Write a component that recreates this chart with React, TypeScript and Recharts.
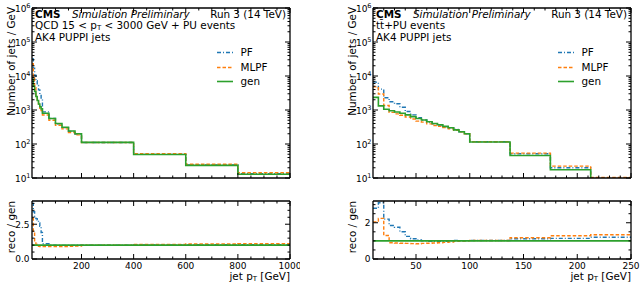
import React from 'react';
import { ComposedChart, Line, XAxis, YAxis, ReferenceLine } from 'recharts';

const FONT = '"DejaVu Sans", Verdana, sans-serif';
const BLUE = '#1f77b4';
const ORANGE = '#ff7f0e';
const GREEN = '#2ca02c';

// ---------- QCD panel (left) ----------
const qcdEdges = [10, 15, 20, 25, 30, 35, 40, 45, 50, 75, 100, 125, 150, 175, 200, 400, 600, 800, 1000];
const qcdGen = [8000, 5000, 3500, 2500, 1900, 1500, 1250, 1080, 800, 560, 400, 310, 240, 200, 112, 49, 23.5, 12.9];
const qcdPF = [32000, 17000, 10500, 7250, 5300, 3900, 2940, 2050, 880, 560, 392, 304, 235, 197, 111, 49.5, 24, 13.3];
const qcdMLPF = [23000, 10000, 4550, 2625, 1800, 1370, 1130, 970, 710, 500, 356, 278, 218, 186, 111, 51.5, 25.3, 14.2];
const qcdPFRatio = [4.0, 3.4, 3.0, 2.9, 2.8, 2.6, 2.35, 1.9, 1.1, 1.0, 0.98, 0.98, 0.98, 0.99, 0.99, 1.01, 1.02, 1.03];
const qcdMLPFRatio = [2.9, 2.0, 1.3, 1.05, 0.95, 0.92, 0.9, 0.9, 0.89, 0.89, 0.89, 0.9, 0.91, 0.93, 0.99, 1.05, 1.08, 1.1];

// ---------- ttbar panel (right) ----------
const ttEdges = [10, 15, 20, 25, 30, 35, 40, 45, 50, 55, 60, 65, 70, 75, 80, 85, 90, 95, 100, 137.5, 175, 212.5, 250];
const ttGen = [2350, 1320, 1050, 950, 870, 800, 720, 640, 560, 510, 450, 400, 370, 330, 300, 260, 230, 200, 115, 46, 17.5, 7.7];
const ttPF = [6600, 4100, 2300, 1750, 1520, 1200, 900, 720, 590, 510, 440, 390, 360, 325, 300, 268, 230, 200, 117, 51.5, 20, 9.2];
const ttMLPF = [4800, 2950, 1350, 850, 770, 700, 620, 545, 470, 440, 390, 350, 330, 305, 282, 252, 228, 200, 117, 54, 22.4, 10.3];
const ttPFRatio = [2.8, 3.1, 2.2, 1.85, 1.75, 1.5, 1.25, 1.12, 1.05, 1.0, 0.98, 0.97, 0.97, 0.98, 1.0, 1.03, 1.0, 1.0, 1.02, 1.12, 1.14, 1.2];
const ttMLPFRatio = [2.05, 2.24, 1.3, 0.9, 0.88, 0.87, 0.86, 0.85, 0.84, 0.86, 0.87, 0.88, 0.9, 0.92, 0.94, 0.97, 0.99, 1.0, 1.02, 1.17, 1.28, 1.34];

// ---------- axis ticks ----------
const logMajor = [10, 100, 1000, 10000, 100000, 1000000];
const logTicks = [
  10, 20, 30, 40, 50, 60, 70, 80, 90,
  100, 200, 300, 400, 500, 600, 700, 800, 900,
  1000, 2000, 3000, 4000, 5000, 6000, 7000, 8000, 9000,
  10000, 20000, 30000, 40000, 50000, 60000, 70000, 80000, 90000,
  100000, 200000, 300000, 400000, 500000, 600000, 700000, 800000, 900000,
  1000000,
];
const qcdXMajor = [200, 400, 600, 800, 1000];
const qcdXTicks = [50, 100, 150, 200, 250, 300, 350, 400, 450, 500, 550, 600, 650, 700, 750, 800, 850, 900, 950, 1000];
const ttXMajor = [50, 100, 150, 200, 250];
const ttXTicks = [20, 30, 40, 50, 60, 70, 80, 90, 100, 110, 120, 130, 140, 150, 160, 170, 180, 190, 200, 210, 220, 230, 240, 250];
const qcdRMajor = [0, 2.5];
const qcdRTicks = [0, 0.5, 1, 1.5, 2, 2.5, 3, 3.5, 4];
const ttRMajor = [0, 2];
const ttRTicks = [0, 0.5, 1, 1.5, 2, 2.5, 3];

const TXT = 10.4;
const TICKFS = 9;

const near = (arr: number[], v: number) => arr.some((a) => Math.abs(a - v) <= 1e-9 * Math.max(1, Math.abs(a)));

type Side = 'left' | 'right' | 'top' | 'bottom';
type LabelKind = 'none' | 'log' | 'num1' | 'num0' | 'bottom';

function makeTick(side: Side, majors: number[], kind: LabelKind) {
  return (p: any) => {
    const { x, y, payload } = p;
    const v = payload.value as number;
    const major = near(majors, v);
    const L = major ? 5 : 2.5;
    let line: any;
    if (side === 'left') line = <line x1={x} x2={x + L} y1={y} y2={y} stroke="#000" strokeWidth={1} />;
    else if (side === 'right') line = <line x1={x} x2={x - L} y1={y} y2={y} stroke="#000" strokeWidth={1} />;
    else if (side === 'bottom') line = <line x1={x} x2={x} y1={y} y2={y - L} stroke="#000" strokeWidth={1} />;
    else line = <line x1={x} x2={x} y1={y} y2={y + L} stroke="#000" strokeWidth={1} />;
    let text: any = null;
    if (major && kind === 'log') {
      const e = Math.round(Math.log10(v));
      text = (
        <text x={x - 1.5} y={y + 4} textAnchor="end" fontSize={TICKFS} fontFamily={FONT} fill="#000" stroke="none">
          10<tspan dy={-4.5} fontSize={6.5}>{e}</tspan>
        </text>
      );
    } else if (major && (kind === 'num1' || kind === 'num0')) {
      text = (
        <text x={x - 2.5} y={y + 3.3} textAnchor="end" fontSize={TICKFS} fontFamily={FONT} fill="#000" stroke="none">
          {kind === 'num1' ? v.toFixed(1) : String(v)}
        </text>
      );
    } else if (major && kind === 'bottom') {
      text = (
        <text x={x} y={y + 9.8} textAnchor="middle" fontSize={TICKFS} fontFamily={FONT} fill="#000" stroke="none">
          {String(v)}
        </text>
      );
    }
    return (
      <g>
        {line}
        {text}
      </g>
    );
  };
}

const AXIS_LINE = { stroke: '#000', strokeWidth: 1.3 };
const M0 = { top: 0, right: 0, bottom: 0, left: 0 };

type PanelProps = {
  left: number;
  edges: number[];
  gen: number[];
  pf: number[];
  mlpf: number[];
  pfR: number[];
  mlpfR: number[];
  xDomain: [number, number];
  xTicks: number[];
  xMajor: number[];
  rDomain: [number, number];
  rTicks: number[];
  rMajor: number[];
  rKind: LabelKind;
  title: React.ReactNode;
};

function Panel(props: PanelProps) {
  const { left, edges, gen, pf, mlpf, pfR, mlpfR, xDomain, xTicks, xMajor, rDomain, rTicks, rMajor, rKind, title } = props;
  const n = gen.length;
  const mainData = edges.map((e, i) => {
    const j = Math.min(i, n - 1);
    return { x: e, gen: gen[j], pf: pf[j], mlpf: mlpf[j] };
  });
  const ratioData = edges.map((e, i) => {
    const j = Math.min(i, n - 1);
    return { x: e, pf: pfR[j], mlpf: mlpfR[j] };
  });
  const commonLine = { dot: false, activeDot: false, isAnimationActive: false, type: 'stepAfter' as const, xAxisId: 'b', yAxisId: 'l' };

  return (
    <div style={{ position: 'absolute', left, top: 0, width: 300, height: 284 }}>
      <div style={{ position: 'absolute', left: 0, top: 0 }}>
        <ComposedChart width={300} height={190} data={mainData} margin={M0}>
          <XAxis xAxisId="b" dataKey="x" type="number" domain={xDomain} allowDataOverflow ticks={xTicks} interval={0}
            tickSize={0} tickMargin={0} height={12} axisLine={AXIS_LINE} tickLine={false} tick={makeTick('bottom', xMajor, 'none')} />
          <XAxis xAxisId="t" orientation="top" dataKey="x" type="number" domain={xDomain} allowDataOverflow ticks={xTicks} interval={0}
            tickSize={0} tickMargin={0} height={8} axisLine={AXIS_LINE} tickLine={false} tick={makeTick('top', xMajor, 'none')} />
          <YAxis yAxisId="l" type="number" scale="log" domain={[10, 1000000]} allowDataOverflow ticks={logTicks} interval={0}
            tickSize={0} tickMargin={0} width={32} axisLine={AXIS_LINE} tickLine={false} tick={makeTick('left', logMajor, 'log')} />
          <YAxis yAxisId="r" orientation="right" type="number" scale="log" domain={[10, 1000000]} allowDataOverflow ticks={logTicks} interval={0}
            tickSize={0} tickMargin={0} width={10} axisLine={AXIS_LINE} tickLine={false} tick={makeTick('right', logMajor, 'none')} />
          <Line {...commonLine} dataKey="pf" stroke={BLUE} strokeWidth={1.4} strokeDasharray="4 2 1 2" />
          <Line {...commonLine} dataKey="mlpf" stroke={ORANGE} strokeWidth={1.4} strokeDasharray="3.5 2" />
          <Line {...commonLine} dataKey="gen" stroke={GREEN} strokeWidth={1.6} />
        </ComposedChart>
      </div>
      <div style={{ position: 'absolute', left: 0, top: 190 }}>
        <ComposedChart width={300} height={94} data={ratioData} margin={M0}>
          <XAxis xAxisId="b" dataKey="x" type="number" domain={xDomain} allowDataOverflow ticks={xTicks} interval={0}
            tickSize={0} tickMargin={0} height={25} axisLine={AXIS_LINE} tickLine={false} tick={makeTick('bottom', xMajor, 'bottom')} />
          <XAxis xAxisId="t" orientation="top" dataKey="x" type="number" domain={xDomain} allowDataOverflow ticks={xTicks} interval={0}
            tickSize={0} tickMargin={0} height={11} axisLine={AXIS_LINE} tickLine={false} tick={makeTick('top', xMajor, 'none')} />
          <YAxis yAxisId="l" type="number" domain={rDomain} allowDataOverflow ticks={rTicks} interval={0}
            tickSize={0} tickMargin={0} width={32} axisLine={AXIS_LINE} tickLine={false} tick={makeTick('left', rMajor, rKind)} />
          <YAxis yAxisId="r" orientation="right" type="number" domain={rDomain} allowDataOverflow ticks={rTicks} interval={0}
            tickSize={0} tickMargin={0} width={10} axisLine={AXIS_LINE} tickLine={false} tick={makeTick('right', rMajor, 'none')} />
          <Line {...commonLine} dataKey="pf" stroke={BLUE} strokeWidth={1.4} strokeDasharray="4 2 1 2" />
          <Line {...commonLine} dataKey="mlpf" stroke={ORANGE} strokeWidth={1.4} strokeDasharray="3.5 2" />
          <ReferenceLine xAxisId="b" yAxisId="l" y={1} stroke={GREEN} strokeWidth={1.6} />
        </ComposedChart>
      </div>
      <svg width={300} height={284} style={{ position: 'absolute', left: 0, top: 0, pointerEvents: 'none' }} fontFamily={FONT}>
        <text x={35} y={17.5} fontSize={TXT} fontWeight="bold" fill="#000">CMS</text>
        <text x={72} y={17.5} fontSize={TXT} fontStyle="italic" fill="#000">Simulation Preliminary</text>
        <text x={286} y={17.5} fontSize={TXT} textAnchor="end" fill="#000">Run 3 (14 TeV)</text>
        <text x={35} y={28.6} fontSize={TXT} fill="#000">{title}</text>
        <text x={35} y={41} fontSize={TXT} fill="#000">AK4 PUPPI jets</text>

        <line x1={217} x2={233} y1={52.5} y2={52.5} stroke={BLUE} strokeWidth={1.4} strokeDasharray="4 2 1 2" />
        <text x={240.5} y={56} fontSize={TXT} fill="#000">PF</text>
        <line x1={217} x2={233} y1={67.5} y2={67.5} stroke={ORANGE} strokeWidth={1.4} strokeDasharray="3.5 2" />
        <text x={240.5} y={71} fontSize={TXT} fill="#000">MLPF</text>
        <line x1={217} x2={233} y1={81.5} y2={81.5} stroke={GREEN} strokeWidth={1.6} />
        <text x={240.5} y={85} fontSize={TXT} fill="#000">gen</text>

        <text transform="translate(14.5,7) rotate(-90)" textAnchor="end" fontSize={TXT} fill="#000">Number of jets / GeV</text>
        <text transform="translate(14.5,201) rotate(-90)" textAnchor="end" fontSize={TXT} fill="#000">reco / gen</text>
        <text x={290} y={280} textAnchor="end" fontSize={TXT} fill="#000">
          jet p<tspan dy={1} fontSize={7}>T</tspan><tspan dy={-1}> [GeV]</tspan>
        </text>
      </svg>
    </div>
  );
}

export default function App() {
  return (
    <div style={{ position: 'absolute', left: 0, top: 0, width: 640, height: 284, background: '#fff', overflow: 'hidden', fontFamily: FONT }}>
      <Panel
        left={0}
        edges={qcdEdges}
        gen={qcdGen}
        pf={qcdPF}
        mlpf={qcdMLPF}
        pfR={qcdPFRatio}
        mlpfR={qcdMLPFRatio}
        xDomain={[10, 1000]}
        xTicks={qcdXTicks}
        xMajor={qcdXMajor}
        rDomain={[0, 4.17]}
        rTicks={qcdRTicks}
        rMajor={qcdRMajor}
        rKind="num1"
        title={<>QCD 15 &lt; p<tspan dy={1} fontSize={7}>T</tspan><tspan dy={-1}> &lt; 3000 GeV + PU events</tspan></>}
      />
      <Panel
        left={341}
        edges={ttEdges}
        gen={ttGen}
        pf={ttPF}
        mlpf={ttMLPF}
        pfR={ttPFRatio}
        mlpfR={ttMLPFRatio}
        xDomain={[10, 250]}
        xTicks={ttXTicks}
        xMajor={ttXMajor}
        rDomain={[0, 3.2]}
        rTicks={ttRTicks}
        rMajor={ttRMajor}
        rKind="num0"
        title={<>t{'t\u0304'}+PU events</>}
      />
    </div>
  );
}
